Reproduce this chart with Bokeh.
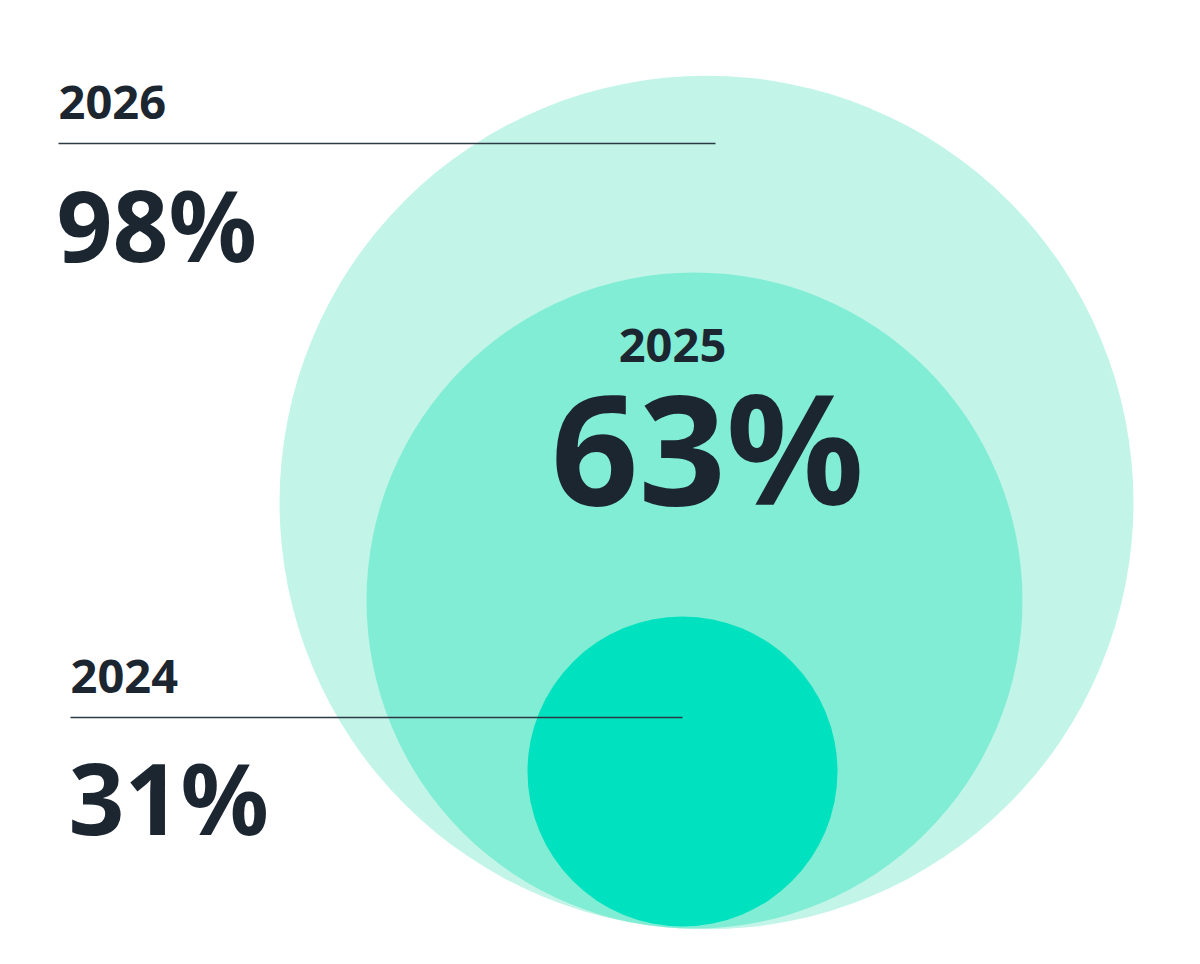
from bokeh.plotting import figure
from bokeh.models import Range1d
from bokeh.core.properties import value
from bokeh.embed import file_html
from bokeh.resources import INLINE

# data
years = ["2026", "2025", "2024"]
shares = ["98%", "63%", "31%"]
circle_x = [706, 694, 682]
circle_y = [502, 600, 771]
circle_r = [427, 328, 155]
circle_colors = ["#c2f5e8", "#82edd5", "#00e1bf"]

ink = "#1b2631"
font = value("Noto Sans")

# one data unit per pixel, y runs downwards like the picture
p = figure(width=1184, height=948, output_backend="svg", toolbar_location=None,
           x_range=Range1d(0, 1184), y_range=Range1d(948, 0),
           min_border=0)
p.axis.visible = False
p.grid.visible = False
p.outline_line_color = None
p.background_fill_color = "white"

# nested circles, biggest first
p.circle(x=circle_x, y=circle_y, radius=circle_r,
         fill_color=circle_colors, line_color=None)

# leader lines
p.segment(x0=[58, 70], y0=[143, 717], x1=[715, 682], y1=[143, 717],
          line_color="#2c3a44", line_width=1.5)

# year labels
p.text(x=[58, 70], y=[102, 676], text=[years[0], years[2]],
       text_font=font, text_font_style="bold", text_font_size="47px",
       text_color=ink, text_baseline="alphabetic", text_align="left")
p.text(x=[672], y=[345], text=[years[1]],
       text_font=font, text_font_style="bold", text_font_size="47px",
       text_color=ink, text_baseline="alphabetic", text_align="center")

# share labels
p.text(x=[56, 68], y=[223, 796], text=[shares[0], shares[2]],
       text_font=font, text_font_style="bold", text_font_size="98px",
       text_color=ink, text_baseline="alphabetic", text_align="left")
p.text(x=[707], y=[445], text=[shares[1]],
       text_font=font, text_font_style="bold", text_font_size="153px",
       text_color=ink, text_baseline="alphabetic", text_align="center")

open("out.html", "w").write(file_html(p, INLINE))
